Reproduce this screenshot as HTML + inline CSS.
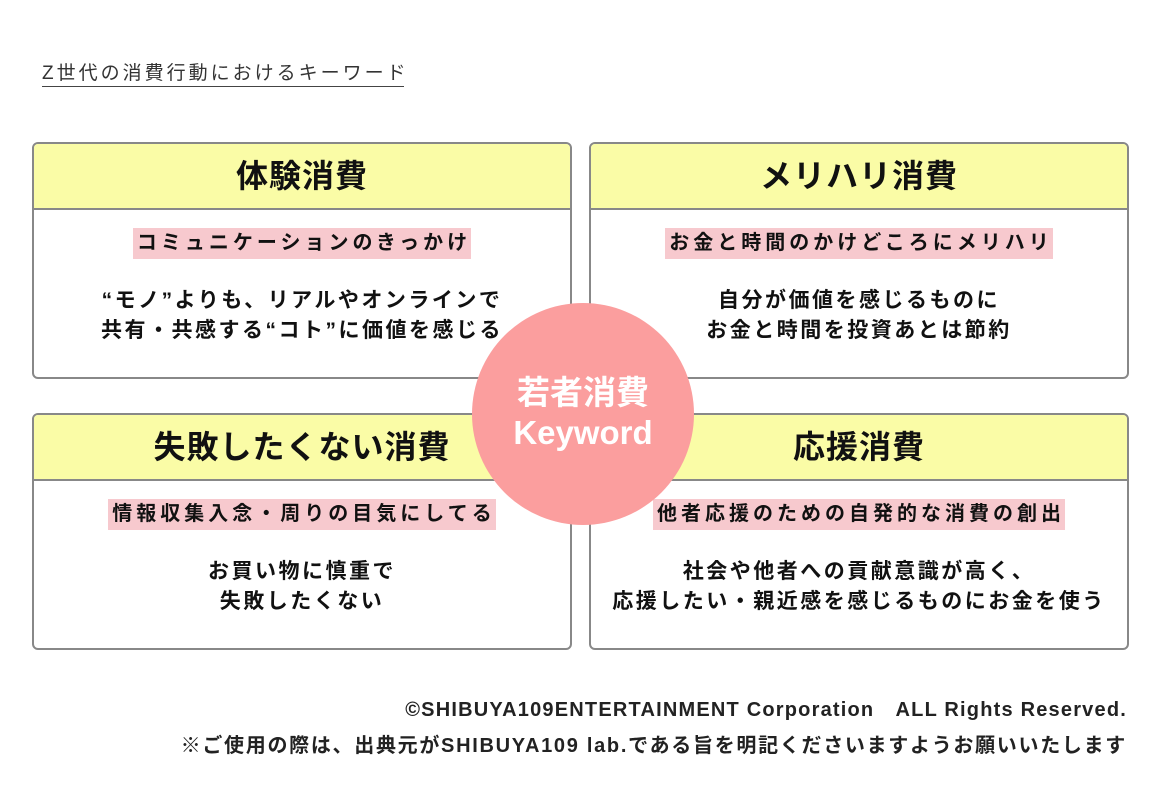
<!DOCTYPE html>
<html><head><meta charset="utf-8"><style>
body{margin:0;width:1160px;height:787px;background:#fff;position:relative;overflow:hidden;font-family:"Liberation Sans","Noto Sans CJK JP",sans-serif;color:#111}
.t{position:absolute;left:42px;top:62px;font-size:19px;letter-spacing:3px;color:#333;border-bottom:1.5px solid #444;line-height:23px;padding-bottom:1px;width:362px;white-space:nowrap}
.box{position:absolute;width:536px;height:233px;border:2px solid #888;border-radius:6px;background:#fff;overflow:hidden}
.hd{height:64px;background:#fafca6;border-bottom:2px solid #888;text-align:center;font-size:32px;letter-spacing:1px;font-weight:bold;line-height:64px}
.hl{display:block;width:max-content;margin:18px auto 0;background:#f7c9ce;font-size:20px;font-weight:bold;line-height:31px;padding:0 0 0 4px;letter-spacing:4px}
.bd{text-align:center;font-size:21px;font-weight:bold;line-height:30px;margin-top:27px;letter-spacing:2.5px}
.c{position:absolute;left:472px;top:303px;width:222px;height:222px;border-radius:50%;background:#fb9e9e;color:#fff;text-align:center;font-size:33px;font-weight:bold;line-height:40px;box-sizing:border-box;padding-top:70px}
.f{position:absolute;right:33px;font-size:20px;font-weight:bold;color:#222;white-space:nowrap}
</style></head><body>
<div class="t">Z世代の消費行動におけるキーワード</div>
<div class="box" style="left:32px;top:142px"><div class="hd">体験消費</div><span class="hl">コミュニケーションのきっかけ</span><div class="bd">“モノ”よりも、リアルやオンラインで<br>共有・共感する“コト”に価値を感じる</div></div>
<div class="box" style="left:589px;top:142px"><div class="hd">メリハリ消費</div><span class="hl">お金と時間のかけどころにメリハリ</span><div class="bd">自分が価値を感じるものに<br>お金と時間を投資あとは節約</div></div>
<div class="box" style="left:32px;top:413px"><div class="hd">失敗したくない消費</div><span class="hl">情報収集入念・周りの目気にしてる</span><div class="bd">お買い物に慎重で<br>失敗したくない</div></div>
<div class="box" style="left:589px;top:413px"><div class="hd">応援消費</div><span class="hl">他者応援のための自発的な消費の創出</span><div class="bd">社会や他者への貢献意識が高く、<br>応援したい・親近感を感じるものにお金を使う</div></div>
<div class="c">若者消費<br>Keyword</div>
<div class="f" style="top:693px;letter-spacing:1.2px">©SHIBUYA109ENTERTAINMENT Corporation　ALL Rights Reserved.</div>
<div class="f" style="top:729px;letter-spacing:1.7px">※ご使用の際は、出典元がSHIBUYA109 lab.である旨を明記くださいますようお願いいたします</div>
</body></html>
